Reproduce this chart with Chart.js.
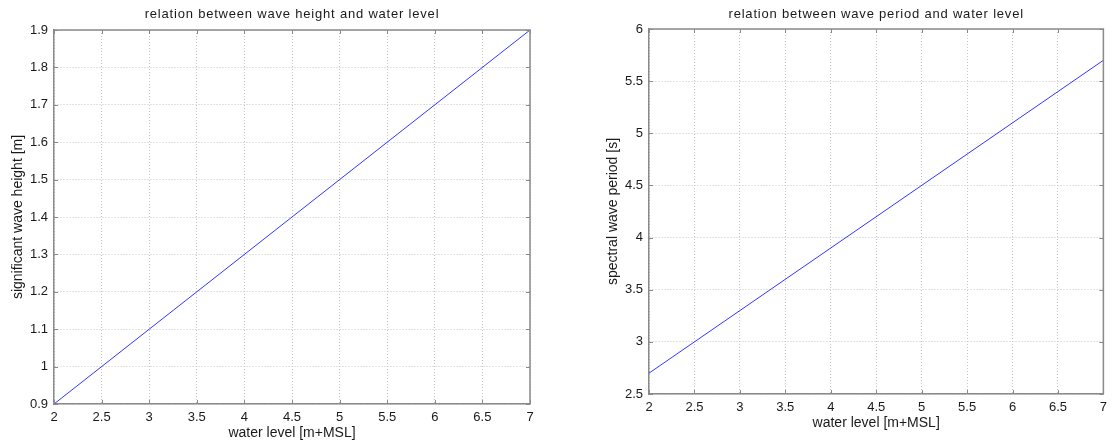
<!DOCTYPE html>
<html>
<head>
<meta charset="utf-8">
<script src="https://cdn.jsdelivr.net/npm/chart.js@4/dist/chart.umd.min.js"></script>
<style>
  body { margin: 0; background: #fff; }
  canvas { position: absolute; top: 0; }
</style>
</head>
<body>
<canvas id="heightChart" width="556" height="443" style="left:0"></canvas>
<canvas id="periodChart" width="557" height="443" style="left:556px"></canvas>
<script>
// values
const waterLevel = [2, 7];
const waveHeight = [0.9, 1.9];
const wavePeriod = [2.7, 5.7];

const xTicks = [2, 2.5, 3, 3.5, 4, 4.5, 5, 5.5, 6, 6.5, 7];
const heightTicks = [0.9, 1, 1.1, 1.2, 1.3, 1.4, 1.5, 1.6, 1.7, 1.8, 1.9];
const periodTicks = [2.5, 3, 3.5, 4, 4.5, 5, 5.5, 6];

const font = "'Liberation Sans', Arial, sans-serif";
const textColor = "#1a1a1a";
const axisColor = "#8a8a8a";

// box on top/right, inward tick marks and the title over the plot area
const frame = {
    id: "frame",
    afterDraw(chart, args, opts) {
        const ctx = chart.ctx;
        const a = chart.chartArea;
        const x = chart.scales.x;
        const y = chart.scales.y;
        ctx.save();
        ctx.strokeStyle = axisColor;
        ctx.lineWidth = 1.5;
        ctx.beginPath();
        ctx.moveTo(a.left, a.top);
        ctx.lineTo(a.right, a.top);
        ctx.lineTo(a.right, a.bottom);
        ctx.stroke();

        ctx.lineWidth = 1;
        ctx.beginPath();
        x.ticks.forEach(t => {
            const px = Math.round(x.getPixelForValue(t.value)) + 0.5;
            ctx.moveTo(px, a.bottom); ctx.lineTo(px, a.bottom - 4);
            ctx.moveTo(px, a.top); ctx.lineTo(px, a.top + 4);
        });
        y.ticks.forEach(t => {
            const py = Math.round(y.getPixelForValue(t.value)) + 0.5;
            ctx.moveTo(a.left, py); ctx.lineTo(a.left + 4, py);
            ctx.moveTo(a.right, py); ctx.lineTo(a.right - 4, py);
        });
        ctx.stroke();

        ctx.fillStyle = textColor;
        ctx.font = "13px " + font;
        ctx.letterSpacing = "0.8px";
        ctx.textAlign = "center";
        ctx.textBaseline = "middle";
        ctx.fillText(opts.text, (a.left + a.right) / 2, 14);
        ctx.restore();
    }
};

function tickLabel(v) {
    return String(+Number(v).toFixed(2));
}

function makeChart(canvasId, cfg) {
    const points = waterLevel.map((w, i) => ({ x: w, y: cfg.values[i] }));
    return new Chart(document.getElementById(canvasId), {
        type: "scatter",
        data: {
            datasets: [{
                data: points,
                showLine: true,
                borderColor: "#3535ff",
                borderWidth: 1,
                pointRadius: 0,
                fill: false
            }]
        },
        plugins: [frame],
        options: {
            responsive: false,
            animation: false,
            devicePixelRatio: 1,
            layout: { padding: cfg.padding },
            plugins: {
                legend: { display: false },
                tooltip: { enabled: false },
                frame: { text: cfg.title }
            },
            scales: {
                x: {
                    type: "linear",
                    min: 2,
                    max: 7,
                    afterBuildTicks: s => { s.ticks = xTicks.map(v => ({ value: v })); },
                    afterFit: s => { s.height = cfg.xHeight; },
                    grid: { color: "#c4c4c4", drawTicks: false },
                    border: { color: axisColor, width: 1.5, dash: [1, 2] },
                    ticks: {
                        padding: 6,
                        color: textColor,
                        font: { family: font, size: 13 },
                        callback: tickLabel
                    },
                    title: {
                        display: true,
                        text: "water level [m+MSL]",
                        color: textColor,
                        font: { family: font, size: 14 },
                        padding: { top: 0, bottom: cfg.xTitlePad }
                    }
                },
                y: {
                    type: "linear",
                    min: cfg.yMin,
                    max: cfg.yMax,
                    afterBuildTicks: s => { s.ticks = cfg.yTicks.map(v => ({ value: v })); },
                    afterFit: s => { s.width = cfg.yWidth; },
                    grid: { color: "#c4c4c4", drawTicks: false },
                    border: { color: axisColor, width: 1.5, dash: [1, 2] },
                    ticks: {
                        padding: 6,
                        color: textColor,
                        font: { family: font, size: 13 },
                        callback: tickLabel
                    },
                    title: {
                        display: true,
                        text: cfg.yTitle,
                        color: textColor,
                        font: { family: font, size: 14 },
                        padding: { top: cfg.yTitlePad, bottom: 0 }
                    }
                }
            }
        }
    });
}

makeChart("heightChart", {
    values: waveHeight,
    title: "relation between wave height and water level",
    yTitle: "significant wave height [m]",
    yMin: 0.9,
    yMax: 1.9,
    yTicks: heightTicks,
    padding: { left: 0, top: 30, right: 26, bottom: 0 },
    yWidth: 54,
    xHeight: 39,
    yTitlePad: 10,
    xTitlePad: 1
});

makeChart("periodChart", {
    values: wavePeriod,
    title: "relation between wave period and water level",
    yTitle: "spectral wave period [s]",
    yMin: 2.5,
    yMax: 6,
    yTicks: periodTicks,
    padding: { left: 0, top: 29, right: 4, bottom: 0 },
    yWidth: 93,
    xHeight: 49,
    yTitlePad: 49,
    xTitlePad: 11
});
</script>
</body>
</html>
